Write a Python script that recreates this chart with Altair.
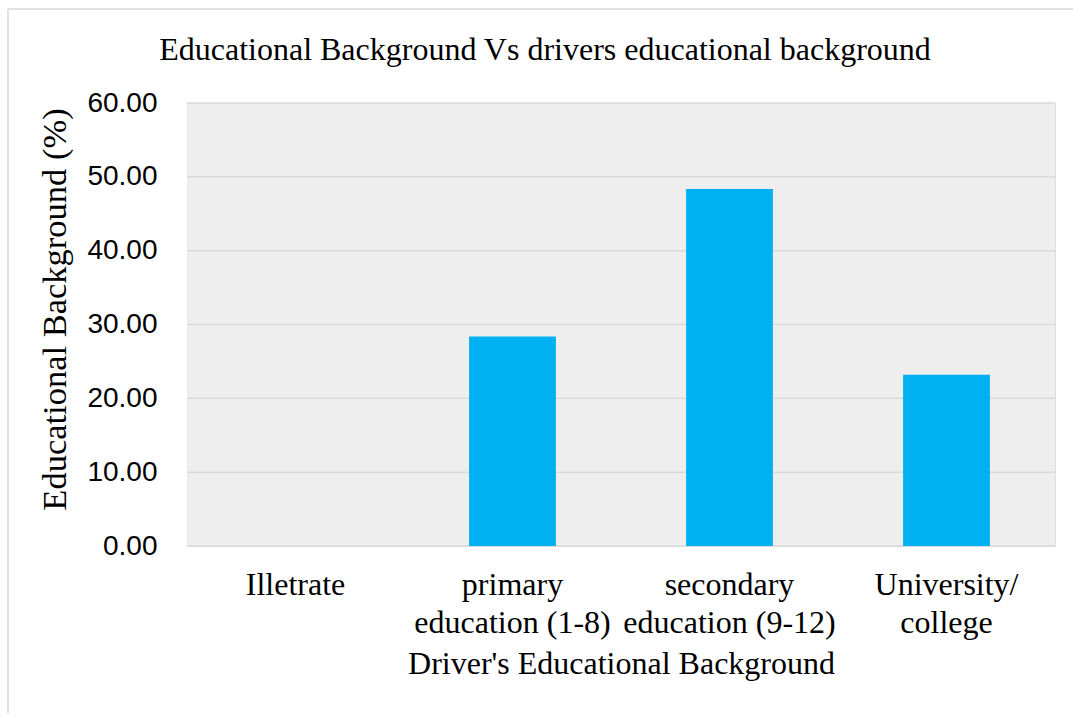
import altair as alt
import pandas as pd

# ---- data ----
categories = ["Illetrate", "primary education (1-8)", "secondary education (9-12)", "University/ college"]
label_lines = [["Illetrate"], ["primary", "education (1-8)"], ["secondary", "education (9-12)"], ["University/", "college"]]
values = [0.0, 28.36, 48.36, 23.18]
y_ticks = [0, 10, 20, 30, 40, 50, 60]

title_text = "Educational Background Vs drivers educational background"
x_title = "Driver's Educational Background"
y_title = "Educational Background (%)"

df = pd.DataFrame({"category": categories, "value": values})
ticks_df = pd.DataFrame({"tick": y_ticks})

SERIF = "Liberation Serif"
SANS = "Liberation Sans"
GRID = "#d9d9d9"
BAR = "#00B0F0"
PLOT_BG = "#eeeeee"

W, H = 868, 443
PAD = {"left": 187, "top": 103, "right": 18, "bottom": 167}

y_scale = alt.Scale(domain=[0, 60], nice=False)


def arr(lines):
    return "[" + ",".join("'" + l + "'" for l in lines) + "]"


label_expr = "datum.label"
for c, lines in reversed(list(zip(categories, label_lines))):
    label_expr = f"datum.label == '{c}' ? {arr(lines)} : ({label_expr})"

one_row = pd.DataFrame({"a": [0]})

plot_bg = alt.Chart(one_row).mark_rect(color=PLOT_BG).encode(
    x=alt.value(0), x2=alt.value(W), y=alt.value(0), y2=alt.value(H)
)

grid = alt.Chart(ticks_df).mark_rule(color=GRID, strokeWidth=1.5).encode(
    y=alt.Y("tick:Q", scale=y_scale),
    x=alt.value(0),
    x2=alt.value(W),
)

bars = alt.Chart(df).mark_bar(color=BAR).encode(
    x=alt.X(
        "category:N",
        sort=categories,
        scale=alt.Scale(paddingInner=0.6, paddingOuter=0.3),
        axis=alt.Axis(
            title=x_title,
            titleFont=SERIF,
            titleFontSize=32,
            titleFontWeight="normal",
            titleColor="black",
            titleY=127,
            titleBaseline="alphabetic",
            labelExpr=label_expr,
            labelFont=SERIF,
            labelFontSize=32,
            labelColor="black",
            labelAngle=0,
            labelBaseline="top",
            labelPadding=23,
            labelLineHeight=38,
            labelLimit=0,
            labelOverlap=False,
            ticks=False,
            tickSize=0,
            domain=False,
            grid=False,
        ),
    ),
    y=alt.Y(
        "value:Q",
        scale=y_scale,
        axis=alt.Axis(
            title=y_title,
            titleFont=SERIF,
            titleFontSize=34.5,
            titleFontWeight="normal",
            titleColor="black",
            titleAngle=270,
            titleAlign="center",
            titleBaseline="alphabetic",
            titleX=-122,
            titleY=206,
            values=y_ticks,
            format=".2f",
            labelFont=SANS,
            labelFontSize=28,
            labelColor="black",
            labelPadding=30,
            labelOverlap=False,
            grid=False,
            ticks=False,
            tickSize=0,
            domain=False,
        ),
    ),
)

frame_left = alt.Chart(one_row).mark_rule(color=GRID, strokeWidth=1.5).encode(
    x=alt.value(8 - PAD["left"]),
    y=alt.value(9 - PAD["top"]),
    y2=alt.value(713 - PAD["top"]),
)
frame_top = alt.Chart(one_row).mark_rule(color=GRID, strokeWidth=1.5).encode(
    x=alt.value(8 - PAD["left"]),
    x2=alt.value(1073 - PAD["left"]),
    y=alt.value(9 - PAD["top"]),
)

chart = (
    alt.layer(plot_bg, grid, bars, frame_left, frame_top)
    .properties(
        width=W,
        height=H,
        padding=PAD,
        autosize=alt.AutoSizeParams(type="none"),
        title=alt.Title(
            title_text,
            font=SERIF,
            fontSize=32,
            fontWeight="normal",
            color="black",
            anchor="middle",
            frame="group",
            dx=-76,
            offset=-84,
            baseline="alphabetic",
            limit=0,
        ),
    )
    .configure_view(stroke="transparent")
    .configure(background="white")
)

chart.save("out.html", embed_options={"renderer": "svg", "actions": False})
